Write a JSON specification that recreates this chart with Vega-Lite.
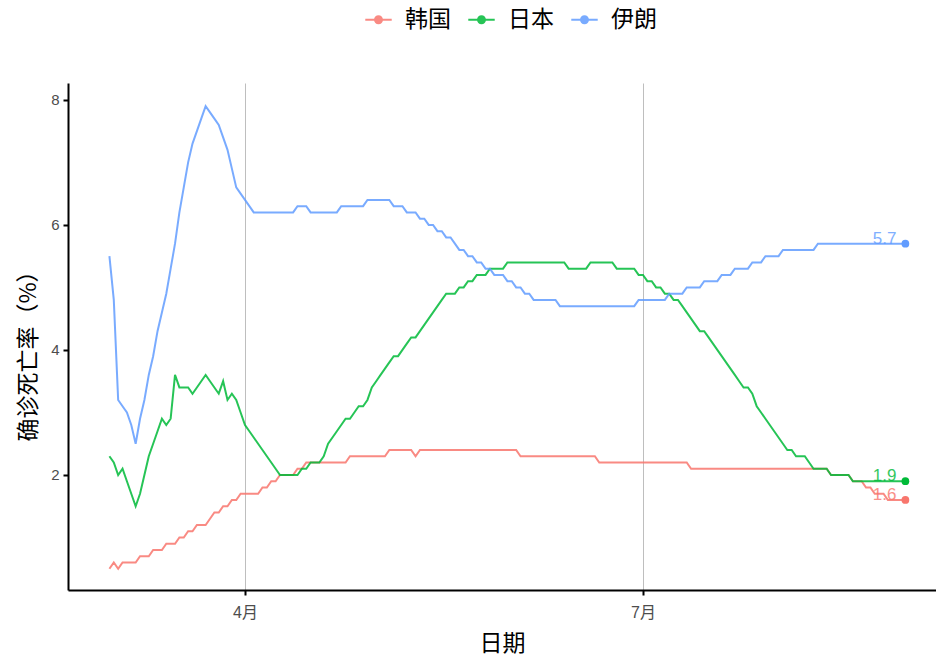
{
"$schema": "https://vega.github.io/schema/vega-lite/v6.json",
"width": 868, "height": 507,
"autosize": "none",
"padding": {"left": 68, "top": 83, "right": 0, "bottom": 71},
"background": "white",
"config": {"view": {"stroke": null}, "font": "Liberation Sans, Noto Sans CJK SC"},
"data": {"format": {"parse": {"d": "utc:'%Y-%m-%d'"}}, "values": [
{"d":"2020-03-01","韩国":0.5,"日本":2.3,"伊朗":5.5},
{"d":"2020-03-02","韩国":0.6,"日本":2.2,"伊朗":4.8},
{"d":"2020-03-03","韩国":0.5,"日本":2.0,"伊朗":3.2},
{"d":"2020-03-04","韩国":0.6,"日本":2.1,"伊朗":3.1},
{"d":"2020-03-05","韩国":0.6,"日本":1.9,"伊朗":3.0},
{"d":"2020-03-06","韩国":0.6,"日本":1.7,"伊朗":2.8},
{"d":"2020-03-07","韩国":0.6,"日本":1.5,"伊朗":2.5},
{"d":"2020-03-08","韩国":0.7,"日本":1.7,"伊朗":2.9},
{"d":"2020-03-09","韩国":0.7,"日本":2.0,"伊朗":3.2},
{"d":"2020-03-10","韩国":0.7,"日本":2.3,"伊朗":3.6},
{"d":"2020-03-11","韩国":0.8,"日本":2.5,"伊朗":3.9},
{"d":"2020-03-12","韩国":0.8,"日本":2.7,"伊朗":4.3},
{"d":"2020-03-13","韩国":0.8,"日本":2.9,"伊朗":4.6},
{"d":"2020-03-14","韩国":0.9,"日本":2.8,"伊朗":4.9},
{"d":"2020-03-15","韩国":0.9,"日本":2.9,"伊朗":5.3},
{"d":"2020-03-16","韩国":0.9,"日本":3.6,"伊朗":5.7},
{"d":"2020-03-17","韩国":1.0,"日本":3.4,"伊朗":6.2},
{"d":"2020-03-18","韩国":1.0,"日本":3.4,"伊朗":6.6},
{"d":"2020-03-19","韩国":1.1,"日本":3.4,"伊朗":7.0},
{"d":"2020-03-20","韩国":1.1,"日本":3.3,"伊朗":7.3},
{"d":"2020-03-21","韩国":1.2,"日本":3.4,"伊朗":7.5},
{"d":"2020-03-22","韩国":1.2,"日本":3.5,"伊朗":7.7},
{"d":"2020-03-23","韩国":1.2,"日本":3.6,"伊朗":7.9},
{"d":"2020-03-24","韩国":1.3,"日本":3.5,"伊朗":7.8},
{"d":"2020-03-25","韩国":1.4,"日本":3.4,"伊朗":7.7},
{"d":"2020-03-26","韩国":1.4,"日本":3.3,"伊朗":7.6},
{"d":"2020-03-27","韩国":1.5,"日本":3.5,"伊朗":7.4},
{"d":"2020-03-28","韩国":1.5,"日本":3.2,"伊朗":7.2},
{"d":"2020-03-29","韩国":1.6,"日本":3.3,"伊朗":6.9},
{"d":"2020-03-30","韩国":1.6,"日本":3.2,"伊朗":6.6},
{"d":"2020-03-31","韩国":1.7,"日本":3.0,"伊朗":6.5},
{"d":"2020-04-01","韩国":1.7,"日本":2.8,"伊朗":6.4},
{"d":"2020-04-02","韩国":1.7,"日本":2.7,"伊朗":6.3},
{"d":"2020-04-03","韩国":1.7,"日本":2.6,"伊朗":6.2},
{"d":"2020-04-04","韩国":1.7,"日本":2.5,"伊朗":6.2},
{"d":"2020-04-05","韩国":1.8,"日本":2.4,"伊朗":6.2},
{"d":"2020-04-06","韩国":1.8,"日本":2.3,"伊朗":6.2},
{"d":"2020-04-07","韩国":1.9,"日本":2.2,"伊朗":6.2},
{"d":"2020-04-08","韩国":1.9,"日本":2.1,"伊朗":6.2},
{"d":"2020-04-09","韩国":2.0,"日本":2.0,"伊朗":6.2},
{"d":"2020-04-10","韩国":2.0,"日本":2.0,"伊朗":6.2},
{"d":"2020-04-11","韩国":2.0,"日本":2.0,"伊朗":6.2},
{"d":"2020-04-12","韩国":2.0,"日本":2.0,"伊朗":6.2},
{"d":"2020-04-13","韩国":2.1,"日本":2.0,"伊朗":6.3},
{"d":"2020-04-14","韩国":2.1,"日本":2.1,"伊朗":6.3},
{"d":"2020-04-15","韩国":2.2,"日本":2.1,"伊朗":6.3},
{"d":"2020-04-16","韩国":2.2,"日本":2.2,"伊朗":6.2},
{"d":"2020-04-17","韩国":2.2,"日本":2.2,"伊朗":6.2},
{"d":"2020-04-18","韩国":2.2,"日本":2.2,"伊朗":6.2},
{"d":"2020-04-19","韩国":2.2,"日本":2.3,"伊朗":6.2},
{"d":"2020-04-20","韩国":2.2,"日本":2.5,"伊朗":6.2},
{"d":"2020-04-21","韩国":2.2,"日本":2.6,"伊朗":6.2},
{"d":"2020-04-22","韩国":2.2,"日本":2.7,"伊朗":6.2},
{"d":"2020-04-23","韩国":2.2,"日本":2.8,"伊朗":6.3},
{"d":"2020-04-24","韩国":2.2,"日本":2.9,"伊朗":6.3},
{"d":"2020-04-25","韩国":2.3,"日本":2.9,"伊朗":6.3},
{"d":"2020-04-26","韩国":2.3,"日本":3.0,"伊朗":6.3},
{"d":"2020-04-27","韩国":2.3,"日本":3.1,"伊朗":6.3},
{"d":"2020-04-28","韩国":2.3,"日本":3.1,"伊朗":6.3},
{"d":"2020-04-29","韩国":2.3,"日本":3.2,"伊朗":6.4},
{"d":"2020-04-30","韩国":2.3,"日本":3.4,"伊朗":6.4},
{"d":"2020-05-01","韩国":2.3,"日本":3.5,"伊朗":6.4},
{"d":"2020-05-02","韩国":2.3,"日本":3.6,"伊朗":6.4},
{"d":"2020-05-03","韩国":2.3,"日本":3.7,"伊朗":6.4},
{"d":"2020-05-04","韩国":2.4,"日本":3.8,"伊朗":6.4},
{"d":"2020-05-05","韩国":2.4,"日本":3.9,"伊朗":6.3},
{"d":"2020-05-06","韩国":2.4,"日本":3.9,"伊朗":6.3},
{"d":"2020-05-07","韩国":2.4,"日本":4.0,"伊朗":6.3},
{"d":"2020-05-08","韩国":2.4,"日本":4.1,"伊朗":6.2},
{"d":"2020-05-09","韩国":2.4,"日本":4.2,"伊朗":6.2},
{"d":"2020-05-10","韩国":2.3,"日本":4.2,"伊朗":6.2},
{"d":"2020-05-11","韩国":2.4,"日本":4.3,"伊朗":6.1},
{"d":"2020-05-12","韩国":2.4,"日本":4.4,"伊朗":6.1},
{"d":"2020-05-13","韩国":2.4,"日本":4.5,"伊朗":6.0},
{"d":"2020-05-14","韩国":2.4,"日本":4.6,"伊朗":6.0},
{"d":"2020-05-15","韩国":2.4,"日本":4.7,"伊朗":5.9},
{"d":"2020-05-16","韩国":2.4,"日本":4.8,"伊朗":5.9},
{"d":"2020-05-17","韩国":2.4,"日本":4.9,"伊朗":5.8},
{"d":"2020-05-18","韩国":2.4,"日本":4.9,"伊朗":5.8},
{"d":"2020-05-19","韩国":2.4,"日本":4.9,"伊朗":5.7},
{"d":"2020-05-20","韩国":2.4,"日本":5.0,"伊朗":5.6},
{"d":"2020-05-21","韩国":2.4,"日本":5.0,"伊朗":5.6},
{"d":"2020-05-22","韩国":2.4,"日本":5.1,"伊朗":5.5},
{"d":"2020-05-23","韩国":2.4,"日本":5.1,"伊朗":5.5},
{"d":"2020-05-24","韩国":2.4,"日本":5.2,"伊朗":5.4},
{"d":"2020-05-25","韩国":2.4,"日本":5.2,"伊朗":5.4},
{"d":"2020-05-26","韩国":2.4,"日本":5.2,"伊朗":5.3},
{"d":"2020-05-27","韩国":2.4,"日本":5.3,"伊朗":5.3},
{"d":"2020-05-28","韩国":2.4,"日本":5.3,"伊朗":5.2},
{"d":"2020-05-29","韩国":2.4,"日本":5.3,"伊朗":5.2},
{"d":"2020-05-30","韩国":2.4,"日本":5.3,"伊朗":5.2},
{"d":"2020-05-31","韩国":2.4,"日本":5.4,"伊朗":5.1},
{"d":"2020-06-01","韩国":2.4,"日本":5.4,"伊朗":5.1},
{"d":"2020-06-02","韩国":2.4,"日本":5.4,"伊朗":5.0},
{"d":"2020-06-03","韩国":2.3,"日本":5.4,"伊朗":5.0},
{"d":"2020-06-04","韩国":2.3,"日本":5.4,"伊朗":4.9},
{"d":"2020-06-05","韩国":2.3,"日本":5.4,"伊朗":4.9},
{"d":"2020-06-06","韩国":2.3,"日本":5.4,"伊朗":4.8},
{"d":"2020-06-07","韩国":2.3,"日本":5.4,"伊朗":4.8},
{"d":"2020-06-08","韩国":2.3,"日本":5.4,"伊朗":4.8},
{"d":"2020-06-09","韩国":2.3,"日本":5.4,"伊朗":4.8},
{"d":"2020-06-10","韩国":2.3,"日本":5.4,"伊朗":4.8},
{"d":"2020-06-11","韩国":2.3,"日本":5.4,"伊朗":4.8},
{"d":"2020-06-12","韩国":2.3,"日本":5.4,"伊朗":4.7},
{"d":"2020-06-13","韩国":2.3,"日本":5.4,"伊朗":4.7},
{"d":"2020-06-14","韩国":2.3,"日本":5.3,"伊朗":4.7},
{"d":"2020-06-15","韩国":2.3,"日本":5.3,"伊朗":4.7},
{"d":"2020-06-16","韩国":2.3,"日本":5.3,"伊朗":4.7},
{"d":"2020-06-17","韩国":2.3,"日本":5.3,"伊朗":4.7},
{"d":"2020-06-18","韩国":2.3,"日本":5.3,"伊朗":4.7},
{"d":"2020-06-19","韩国":2.3,"日本":5.4,"伊朗":4.7},
{"d":"2020-06-20","韩国":2.3,"日本":5.4,"伊朗":4.7},
{"d":"2020-06-21","韩国":2.2,"日本":5.4,"伊朗":4.7},
{"d":"2020-06-22","韩国":2.2,"日本":5.4,"伊朗":4.7},
{"d":"2020-06-23","韩国":2.2,"日本":5.4,"伊朗":4.7},
{"d":"2020-06-24","韩国":2.2,"日本":5.4,"伊朗":4.7},
{"d":"2020-06-25","韩国":2.2,"日本":5.3,"伊朗":4.7},
{"d":"2020-06-26","韩国":2.2,"日本":5.3,"伊朗":4.7},
{"d":"2020-06-27","韩国":2.2,"日本":5.3,"伊朗":4.7},
{"d":"2020-06-28","韩国":2.2,"日本":5.3,"伊朗":4.7},
{"d":"2020-06-29","韩国":2.2,"日本":5.3,"伊朗":4.7},
{"d":"2020-06-30","韩国":2.2,"日本":5.2,"伊朗":4.8},
{"d":"2020-07-01","韩国":2.2,"日本":5.2,"伊朗":4.8},
{"d":"2020-07-02","韩国":2.2,"日本":5.1,"伊朗":4.8},
{"d":"2020-07-03","韩国":2.2,"日本":5.1,"伊朗":4.8},
{"d":"2020-07-04","韩国":2.2,"日本":5.0,"伊朗":4.8},
{"d":"2020-07-05","韩国":2.2,"日本":5.0,"伊朗":4.8},
{"d":"2020-07-06","韩国":2.2,"日本":4.9,"伊朗":4.8},
{"d":"2020-07-07","韩国":2.2,"日本":4.9,"伊朗":4.9},
{"d":"2020-07-08","韩国":2.2,"日本":4.8,"伊朗":4.9},
{"d":"2020-07-09","韩国":2.2,"日本":4.8,"伊朗":4.9},
{"d":"2020-07-10","韩国":2.2,"日本":4.7,"伊朗":4.9},
{"d":"2020-07-11","韩国":2.2,"日本":4.6,"伊朗":5.0},
{"d":"2020-07-12","韩国":2.1,"日本":4.5,"伊朗":5.0},
{"d":"2020-07-13","韩国":2.1,"日本":4.4,"伊朗":5.0},
{"d":"2020-07-14","韩国":2.1,"日本":4.3,"伊朗":5.0},
{"d":"2020-07-15","韩国":2.1,"日本":4.3,"伊朗":5.1},
{"d":"2020-07-16","韩国":2.1,"日本":4.2,"伊朗":5.1},
{"d":"2020-07-17","韩国":2.1,"日本":4.1,"伊朗":5.1},
{"d":"2020-07-18","韩国":2.1,"日本":4.0,"伊朗":5.1},
{"d":"2020-07-19","韩国":2.1,"日本":3.9,"伊朗":5.2},
{"d":"2020-07-20","韩国":2.1,"日本":3.8,"伊朗":5.2},
{"d":"2020-07-21","韩国":2.1,"日本":3.7,"伊朗":5.2},
{"d":"2020-07-22","韩国":2.1,"日本":3.6,"伊朗":5.3},
{"d":"2020-07-23","韩国":2.1,"日本":3.5,"伊朗":5.3},
{"d":"2020-07-24","韩国":2.1,"日本":3.4,"伊朗":5.3},
{"d":"2020-07-25","韩国":2.1,"日本":3.4,"伊朗":5.3},
{"d":"2020-07-26","韩国":2.1,"日本":3.3,"伊朗":5.4},
{"d":"2020-07-27","韩国":2.1,"日本":3.1,"伊朗":5.4},
{"d":"2020-07-28","韩国":2.1,"日本":3.0,"伊朗":5.4},
{"d":"2020-07-29","韩国":2.1,"日本":2.9,"伊朗":5.5},
{"d":"2020-07-30","韩国":2.1,"日本":2.8,"伊朗":5.5},
{"d":"2020-07-31","韩国":2.1,"日本":2.7,"伊朗":5.5},
{"d":"2020-08-01","韩国":2.1,"日本":2.6,"伊朗":5.5},
{"d":"2020-08-02","韩国":2.1,"日本":2.5,"伊朗":5.6},
{"d":"2020-08-03","韩国":2.1,"日本":2.4,"伊朗":5.6},
{"d":"2020-08-04","韩国":2.1,"日本":2.4,"伊朗":5.6},
{"d":"2020-08-05","韩国":2.1,"日本":2.3,"伊朗":5.6},
{"d":"2020-08-06","韩国":2.1,"日本":2.3,"伊朗":5.6},
{"d":"2020-08-07","韩国":2.1,"日本":2.3,"伊朗":5.6},
{"d":"2020-08-08","韩国":2.1,"日本":2.2,"伊朗":5.6},
{"d":"2020-08-09","韩国":2.1,"日本":2.1,"伊朗":5.6},
{"d":"2020-08-10","韩国":2.1,"日本":2.1,"伊朗":5.7},
{"d":"2020-08-11","韩国":2.1,"日本":2.1,"伊朗":5.7},
{"d":"2020-08-12","韩国":2.1,"日本":2.1,"伊朗":5.7},
{"d":"2020-08-13","韩国":2.0,"日本":2.0,"伊朗":5.7},
{"d":"2020-08-14","韩国":2.0,"日本":2.0,"伊朗":5.7},
{"d":"2020-08-15","韩国":2.0,"日本":2.0,"伊朗":5.7},
{"d":"2020-08-16","韩国":2.0,"日本":2.0,"伊朗":5.7},
{"d":"2020-08-17","韩国":2.0,"日本":2.0,"伊朗":5.7},
{"d":"2020-08-18","韩国":1.9,"日本":1.9,"伊朗":5.7},
{"d":"2020-08-19","韩国":1.9,"日本":1.9,"伊朗":5.7},
{"d":"2020-08-20","韩国":1.9,"日本":1.9,"伊朗":5.7},
{"d":"2020-08-21","韩国":1.8,"日本":1.9,"伊朗":5.7},
{"d":"2020-08-22","韩国":1.8,"日本":1.9,"伊朗":5.7},
{"d":"2020-08-23","韩国":1.7,"日本":1.9,"伊朗":5.7},
{"d":"2020-08-24","韩国":1.7,"日本":1.9,"伊朗":5.7},
{"d":"2020-08-25","韩国":1.7,"日本":1.9,"伊朗":5.7},
{"d":"2020-08-26","韩国":1.6,"日本":1.9,"伊朗":5.7},
{"d":"2020-08-27","韩国":1.6,"日本":1.9,"伊朗":5.7},
{"d":"2020-08-28","韩国":1.6,"日本":1.9,"伊朗":5.7},
{"d":"2020-08-29","韩国":1.6,"日本":1.9,"伊朗":5.7},
{"d":"2020-08-30","韩国":1.6,"日本":1.9,"伊朗":5.7}
]},
"transform": [{"fold": ["韩国", "日本", "伊朗"], "as": ["country", "rate"]}],
"encoding": {
  "x": {"field": "d", "type": "temporal",
    "scale": {"type": "utc", "domain": [{"year": 2020, "month": 2, "date": 20, "hours": 12, "minutes": 43, "utc": true}, {"year": 2020, "month": 9, "date": 6, "utc": true}]},
    "axis": {"values": [{"year": 2020, "month": 4, "date": 1, "utc": true}, {"year": 2020, "month": 7, "date": 1, "utc": true}],
      "labelExpr": "(utcmonth(datum.value) + 1) + '月'",
      "grid": true, "gridColor": "#BEBEBE", "gridWidth": 1,
      "domainColor": "black", "domainWidth": 2, "tickColor": "black", "tickWidth": 2, "tickSize": 5,
      "labelColor": "#4D4D4D", "labelFontSize": 16, "labelPadding": 9, "labelFont": "Liberation Sans, Noto Sans CJK SC",
      "title": "日期", "titleFontSize": 23, "titleFontWeight": "normal", "titleColor": "black", "titleFont": "Noto Sans CJK SC",
      "titleY": 53, "titleBaseline": "middle"}},
  "y": {"field": "rate", "type": "quantitative",
    "scale": {"domain": [0.16, 8.27], "nice": false, "zero": false},
    "axis": {"values": [2, 4, 6, 8], "grid": false,
      "domainColor": "black", "domainWidth": 2, "tickColor": "black", "tickWidth": 2, "tickSize": 5,
      "labelColor": "#4D4D4D", "labelFontSize": 15, "labelPadding": 4, "labelFont": "Liberation Sans",
      "title": "确诊死亡率（%）", "titleFontSize": 23, "titleFontWeight": "normal", "titleColor": "black", "titleFont": "Noto Sans CJK SC",
      "titleX": -40, "titleY": 267, "titleBaseline": "middle", "titleAngle": 270}},
  "color": {"field": "country", "type": "nominal",
    "scale": {"domain": ["韩国", "日本", "伊朗"], "range": ["#F8766D", "#00BA38", "#619CFF"]}}
},
"layer": [
  {"mark": {"type": "line", "strokeWidth": 2, "opacity": 0.85},
   "encoding": {"color": {"field": "country", "type": "nominal",
     "scale": {"domain": ["韩国", "日本", "伊朗"], "range": ["#F8766D", "#00BA38", "#619CFF"]},
     "legend": {"orient": "none", "legendX": 297, "legendY": -77, "direction": "horizontal", "title": null,
       "labelFontSize": 23, "labelFont": "Noto Sans CJK SC", "labelColor": "black", "labelOffset": 13, "columnPadding": 17,
       "symbolType": "M-1,-0.07L1,-0.07L1,0.07L-1,0.07Z M-0.34,0A0.34,0.34 0 1,1 0.34,0A0.34,0.34 0 1,1 -0.34,0Z",
       "symbolSize": 700, "symbolStrokeWidth": 0,
       "encode": {"symbols": {"update": {"fill": {"scale": "color", "field": "value"}, "stroke": {"value": "transparent"}, "opacity": {"value": 1}}}}}}}},
  {"transform": [{"filter": "time(datum.d) == utc(2020, 7, 30)"}],
   "mark": {"type": "point", "filled": true, "size": 60, "opacity": 1}},
  {"transform": [{"filter": "time(datum.d) == utc(2020, 7, 30)"}],
   "mark": {"type": "text", "align": "right", "baseline": "alphabetic", "dx": -9, "dy": 0, "fontSize": 17, "opacity": 0.8, "font": "Liberation Sans"},
   "encoding": {"text": {"field": "rate", "type": "quantitative", "format": ".1f"}}}
]
}
